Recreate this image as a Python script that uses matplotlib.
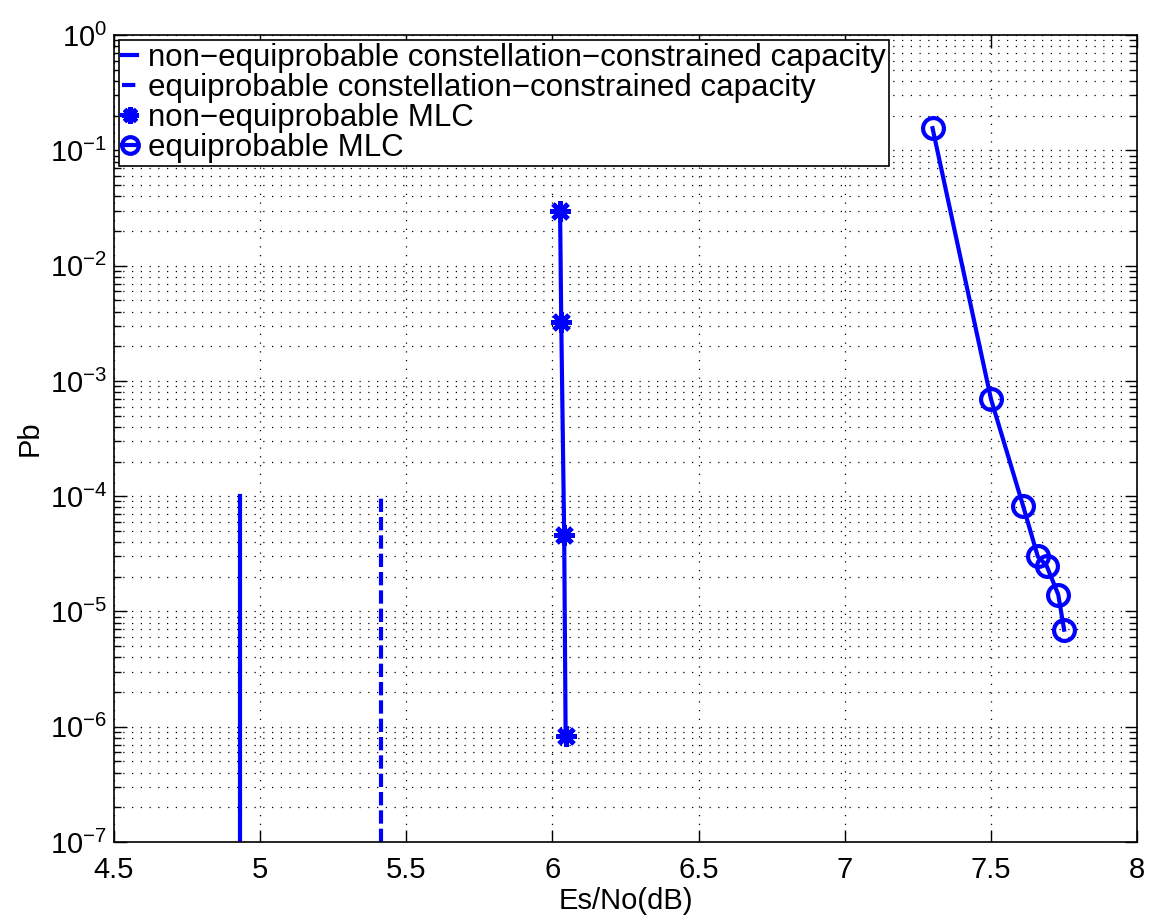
import numpy as np
import matplotlib
matplotlib.use('Agg')
import matplotlib.pyplot as plt
from matplotlib.ticker import LogLocator, NullFormatter, FixedLocator

plt.rcParams['font.family'] = ['Liberation Sans', 'DejaVu Sans']
plt.rcParams['mathtext.fontset'] = 'custom'
plt.rcParams['mathtext.rm'] = 'Liberation Sans'
plt.rcParams['mathtext.it'] = 'Liberation Sans'

# capacity limits (vertical lines)
cap_noneq_x = [4.93, 4.93]
cap_eq_x = [5.413, 5.413]
cap_y = [1e-7, 1e-4]

# non-equiprobable MLC
mlc_noneq_x = [6.026, 6.03, 6.04, 6.045]
mlc_noneq_y = [3.0e-2, 3.26e-3, 4.6e-5, 8.3e-7]

# equiprobable MLC
mlc_eq_x = [7.30, 7.50, 7.61, 7.66, 7.69, 7.73, 7.75]
mlc_eq_y = [1.56e-1, 6.95e-4, 8.2e-5, 3.0e-5, 2.5e-5, 1.4e-5, 6.95e-6]

labels = ['non\u2212equiprobable constellation\u2212constrained capacity',
          'equiprobable constellation\u2212constrained capacity',
          'non\u2212equiprobable MLC',
          'equiprobable MLC']

blue = (0, 0, 1)
fig = plt.figure(figsize=(11.51, 9.21), dpi=100)
ax = fig.add_axes([0.099, 0.0858, 0.889, 0.876])

ax.plot(cap_noneq_x, cap_y, '-', color=blue, lw=3, label=labels[0])
ax.plot(cap_eq_x, cap_y, '--', color=blue, lw=3, dashes=(3.2, 1.2), label=labels[1])
ax.plot(mlc_noneq_x, mlc_noneq_y, '-', color=blue, lw=3, marker=(8, 2, 0),
        ms=15, mew=3.5, label=labels[2])
ax.plot(mlc_eq_x, mlc_eq_y, '-', color=blue, lw=3, marker='o', ms=15,
        mew=3, mfc='none', label=labels[3])

ax.set_yscale('log')
ax.set_xlim(4.5, 8)
ax.set_ylim(1e-7, 1)
ax.set_xticks(np.arange(4.5, 8.01, 0.5))
ax.set_xticklabels(['4.5', '5', '5.5', '6', '6.5', '7', '7.5', '8'])
ax.yaxis.set_major_locator(FixedLocator([10.0 ** k for k in range(-7, 1)]))
ax.set_yticklabels([r'$10^{%d}$' % k if k < 0 else r'$10^{0}$' for k in range(-7, 1)])
ax.yaxis.set_minor_locator(LogLocator(base=10, subs=np.arange(2, 10), numticks=20))
ax.yaxis.set_minor_formatter(NullFormatter())

ax.grid(True, which='major', linestyle=(0, (1, 6)), color='black', lw=0.9)
ax.grid(True, which='minor', axis='y', linestyle=(0, (1, 6)), color='black', lw=0.9)
ax.tick_params(which='both', direction='in', top=True, right=True, labelsize=21, width=1)
ax.tick_params(axis='x', pad=10)
ax.tick_params(axis='y', pad=5)
ax.tick_params(which='major', length=9)
ax.tick_params(which='minor', length=5)
for s in ax.spines.values():
    s.set_linewidth(1.2)

ax.set_xlabel('Es/No(dB)', fontsize=21, labelpad=2)
ax.set_ylabel('Pb', fontsize=21, labelpad=4)

leg = ax.legend(loc='upper left', fontsize=22.5, handlelength=0.5, handletextpad=0.35,
                borderpad=0.1, labelspacing=0.0, borderaxespad=0.15, fancybox=False,
                framealpha=1, edgecolor='black')
leg.get_frame().set_linewidth(1.2)
for h in leg.legend_handles:
    h.set_markersize(12)

fig.savefig('out.png', dpi=100)
